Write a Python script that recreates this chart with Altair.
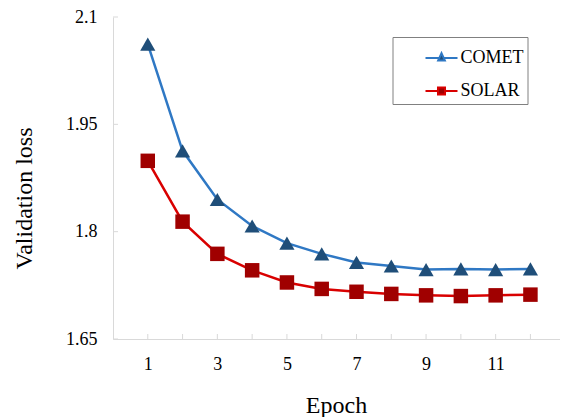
import altair as alt
import pandas as pd

epochs = list(range(1, 13))
comet = [2.062, 1.913, 1.845, 1.808, 1.784, 1.769, 1.757, 1.752, 1.747, 1.748, 1.747, 1.748]
solar = [1.899, 1.814, 1.769, 1.746, 1.729, 1.720, 1.716, 1.713, 1.711, 1.710, 1.711, 1.712]
series = ["COMET", "SOLAR"]
line_colors = ["#2F78C4", "#D90000"]
marker_colors = ["#1F4E79", "#A00000"]
y_ticks = [1.65, 1.8, 1.95, 2.1]
x_labels = [1, 3, 5, 7, 9, 11]
# legend symbols: line with a gap plus the marker of each series
legend_symbols = [
    "M-1,0H-0.16M0.16,0H1M0,-0.3L0.21,0.16L-0.21,0.16Z",
    "M-1,0H-0.22M0.22,0H1M-0.22,-0.22H0.22V0.22H-0.22Z",
]

rows = []
for e, c, s in zip(epochs, comet, solar):
    rows.append({"epoch": e, "loss": c, "series": "COMET"})
    rows.append({"epoch": e, "loss": s, "series": "SOLAR"})
df = pd.DataFrame(rows)

W, H = 447, 322
FONT = "Liberation Serif"
AXIS_GRAY = "#D9D9D9"

xscale = alt.Scale(domain=[0, 12.85], nice=False, zero=False)
yscale = alt.Scale(domain=[1.65, 2.1], nice=False, zero=False)

x_enc = alt.X(
    "epoch:Q", scale=xscale,
    axis=alt.Axis(values=x_labels, title="Epoch", grid=False, ticks=False, tickSize=0,
                  labelPadding=16, labelFontSize=18, labelFont=FONT, labelColor="#000000",
                  domainColor=AXIS_GRAY, titleFont=FONT, titleFontSize=24,
                  titleFontWeight="normal", titleColor="#000000",
                  titleBaseline="alphabetic", titleX=223, titleY=73),
)
y_enc = alt.Y(
    "loss:Q", scale=yscale,
    axis=alt.Axis(values=y_ticks, format=".2~f", title="Validation loss", grid=False,
                  ticks=False, tickSize=0,
                  labelPadding=16, labelFontSize=18, labelFont=FONT, labelColor="#000000",
                  domainColor=AXIS_GRAY, titleFont=FONT, titleFontSize=24,
                  titleFontWeight="normal", titleColor="#000000",
                  titleAngle=270, titleAlign="center", titleBaseline="alphabetic",
                  titleX=-82, titleY=181, labelFlush=False),
)

legend = alt.Legend(
    title=None,
    orient="none", legendX=279.5, legendY=20,
    strokeColor="#808080", padding=4, symbolOffset=28, symbolSize=1024,
    symbolStrokeWidth=2, symbolOpacity=1, labelOffset=2, rowPadding=7,
    labelFont=FONT, labelFontSize=18, labelColor="#000000",
)

stroke_scale = alt.Scale(domain=series, range=line_colors)
fill_scale = alt.Scale(domain=series, range=marker_colors)

lines = alt.Chart(df).mark_line(strokeWidth=2.5).encode(
    x=x_enc, y=y_enc,
    stroke=alt.Stroke("series:N", scale=stroke_scale, legend=legend),
)

comet_pts = alt.Chart(df).transform_filter(alt.datum.series == "COMET").mark_point(
    shape="triangle-up", filled=True, opacity=1, strokeWidth=0, size=230
).encode(x=x_enc, y=y_enc, fill=alt.Fill("series:N", scale=fill_scale, legend=legend))

solar_pts = alt.Chart(df).transform_filter(alt.datum.series == "SOLAR").mark_point(
    shape="square", filled=True, opacity=1, strokeWidth=0, size=210
).encode(x=x_enc, y=y_enc, fill=alt.Fill("series:N", scale=fill_scale, legend=legend))

# draws nothing itself; only carries the legend symbols
legend_layer = alt.Chart(df).transform_filter("false").mark_point(
    filled=True, opacity=1, strokeWidth=2
).encode(
    x=x_enc, y=y_enc,
    fill=alt.Fill("series:N", scale=fill_scale, legend=legend),
    stroke=alt.Stroke("series:N", scale=stroke_scale, legend=legend),
    shape=alt.Shape("series:N", scale=alt.Scale(domain=series, range=legend_symbols), legend=legend),
)

ytick_df = pd.DataFrame({"loss": y_ticks})
yticks = alt.Chart(ytick_df).mark_rule(color=AXIS_GRAY, strokeWidth=1).encode(
    y=y_enc, x=alt.value(0), x2=alt.value(5)
)
xtick_df = pd.DataFrame({"epoch": epochs})
xticks = alt.Chart(xtick_df).mark_rule(color=AXIS_GRAY, strokeWidth=1).encode(
    x=x_enc, y=alt.value(H), y2=alt.value(H - 5)
)

chart = alt.layer(legend_layer, lines, comet_pts, solar_pts, yticks, xticks).properties(
    width=W, height=H,
    autosize=alt.AutoSizeParams(type="none"),
    padding={"left": 105, "top": 9, "right": 0, "bottom": 80},
    background="#FFFFFF",
).configure_view(stroke=None).configure_axis(
    labelFont=FONT, titleFont=FONT
).configure_legend(labelFont=FONT)

chart.save("out.html", embed_options={"renderer": "svg", "actions": False})
